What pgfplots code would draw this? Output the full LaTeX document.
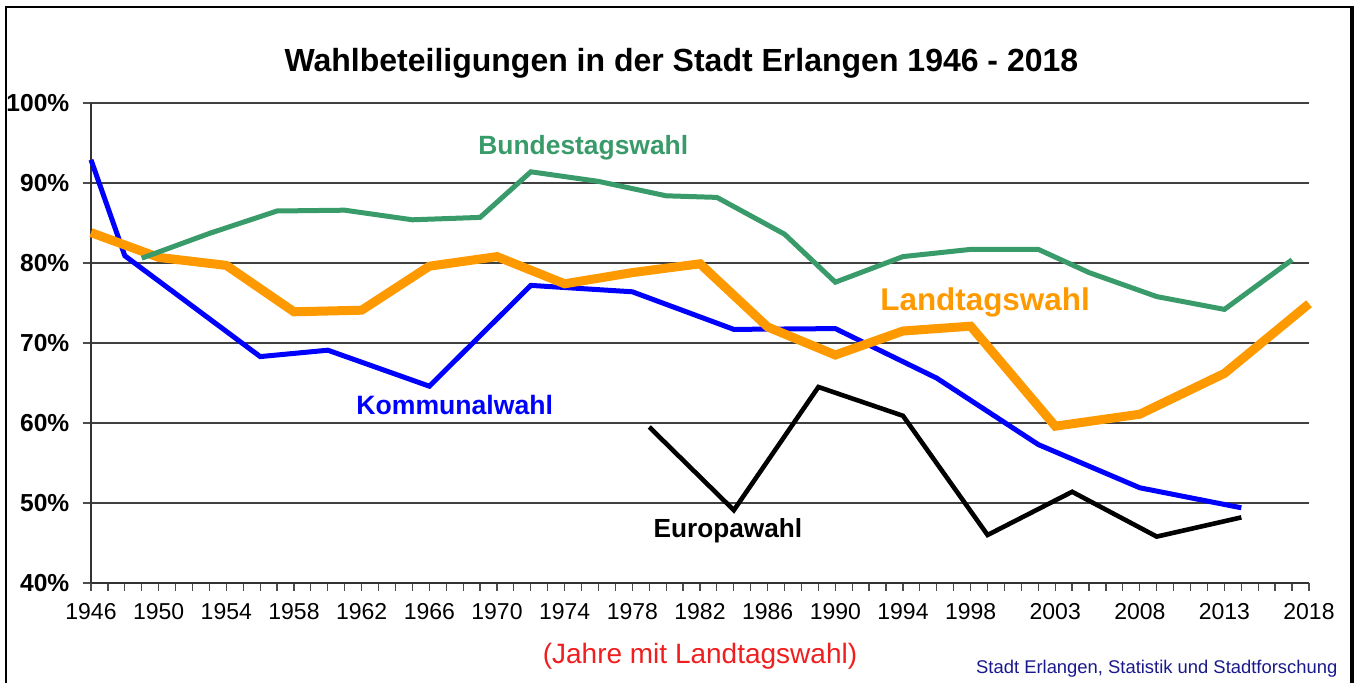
\documentclass[border=0pt]{standalone}
\usepackage{fontspec}
\setmainfont{Liberation Sans}
\usepackage{pgfplots}
\pgfplotsset{compat=1.18}

\definecolor{btwgreen}{RGB}{56,155,105}
\definecolor{ltworange}{RGB}{255,153,0}
\definecolor{navytext}{RGB}{25,25,140}
\definecolor{notered}{RGB}{240,30,30}

\begin{document}
\begin{tikzpicture}[x=1pt,y=1pt]
% page frame (1px = 0.5pt)
\useasboundingbox (-45.5,-50) rectangle (634.5,291.5);
\draw[line width=1pt] (-42.5,-52) -- (-42.5,288) -- (630.5,288);
\draw[line width=1.6pt] (630.5,288.5) -- (630.5,-52);

\begin{axis}[
  at={(0,0)}, anchor=south west,
  scale only axis, width=609pt, height=240pt,
  xmin=1946, xmax=2018, ymin=40, ymax=100,
  axis x line*=bottom, axis y line*=left,
  axis line style={black!80, line width=0.7pt},
  clip=false,
  xtick={1946,1950,1954,1958,1962,1966,1970,1974,1978,1982,1986,1990,1994,1998,2003,2008,2013,2018},
  xticklabels={1946,1950,1954,1958,1962,1966,1970,1974,1978,1982,1986,1990,1994,1998,2003,2008,2013,2018},
  minor xtick={1946,1947,...,2018},
  ytick={40,50,60,70,80,90,100},
  yticklabels={40\%,50\%,60\%,70\%,80\%,90\%,100\%},
  tick align=outside,
  major tick length=4pt, minor tick length=4pt,
  tick style={black!70, line width=0.6pt},
  ymajorgrids,
  grid style={black!75, line width=0.7pt},
  xticklabel style={font=\fontsize{11.5}{12}\selectfont, anchor=base, yshift=-14.1pt},
  yticklabel style={font=\fontsize{12.3}{14}\selectfont\bfseries, anchor=east, xshift=-3.3pt},
]

% Kommunalwahl
\addplot[blue, line width=2.5pt] coordinates {
  (1946,92.9) (1948,80.9) (1952,74.6) (1956,68.3) (1960,69.1) (1966,64.6)
  (1972,77.2) (1978,76.4) (1984,71.7) (1990,71.8) (1996,65.6) (2002,57.3)
  (2008,51.9) (2014,49.4)
};

% Landtagswahl
\addplot[ltworange, line width=4.5pt] coordinates {
  (1946,83.8) (1950,80.7) (1954,79.7) (1958,73.9) (1962,74.1) (1966,79.6)
  (1970,80.8) (1974,77.4) (1978,78.8) (1982,79.9) (1986,72.0) (1990,68.5)
  (1994,71.5) (1998,72.1) (2003,59.6) (2008,61.1) (2013,66.2) (2018,74.9)
};

% Bundestagswahl
\addplot[btwgreen, line width=2.5pt] coordinates {
  (1949,80.6) (1953,83.7) (1957,86.5) (1961,86.6) (1965,85.4) (1969,85.7)
  (1972,91.4) (1976,90.2) (1980,88.4) (1983,88.2) (1987,83.6) (1990,77.6)
  (1994,80.8) (1998,81.7) (2002,81.7) (2005,78.8) (2009,75.8) (2013,74.2)
  (2017,80.4)
};

% Europawahl
\addplot[black, line width=2.3pt] coordinates {
  (1979,59.5) (1984,49.1) (1989,64.5) (1994,60.9) (1999,46.0) (2004,51.4)
  (2009,45.8) (2014,48.2)
};

\node[font=\fontsize{16}{19}\selectfont\bfseries] at (axis cs:1980.9,105) {Wahlbeteiligungen in der Stadt Erlangen 1946 - 2018};
\node[font=\fontsize{13.2}{15}\selectfont\bfseries, text=btwgreen] at (axis cs:1975.1,94.4) {Bundestagswahl};
\node[font=\fontsize{15.7}{18}\selectfont\bfseries, text=ltworange] at (axis cs:1998.85,75.1) {Landtagswahl};
\node[font=\fontsize{13.3}{15}\selectfont\bfseries, text=blue] at (axis cs:1967.5,62.25) {Kommunalwahl};
\node[font=\fontsize{13.1}{15}\selectfont\bfseries, text=black] at (axis cs:1983.65,46.5) {Europawahl};
\node[font=\fontsize{14}{16}\selectfont, text=notered] at (axis cs:1982,30.8) {(Jahre mit Landtagswahl)};
\node[font=\fontsize{9.2}{11}\selectfont, text=navytext] at (axis cs:2009.0,29.25) {Stadt Erlangen, Statistik und Stadtforschung};
\end{axis}
\end{tikzpicture}
\end{document}
